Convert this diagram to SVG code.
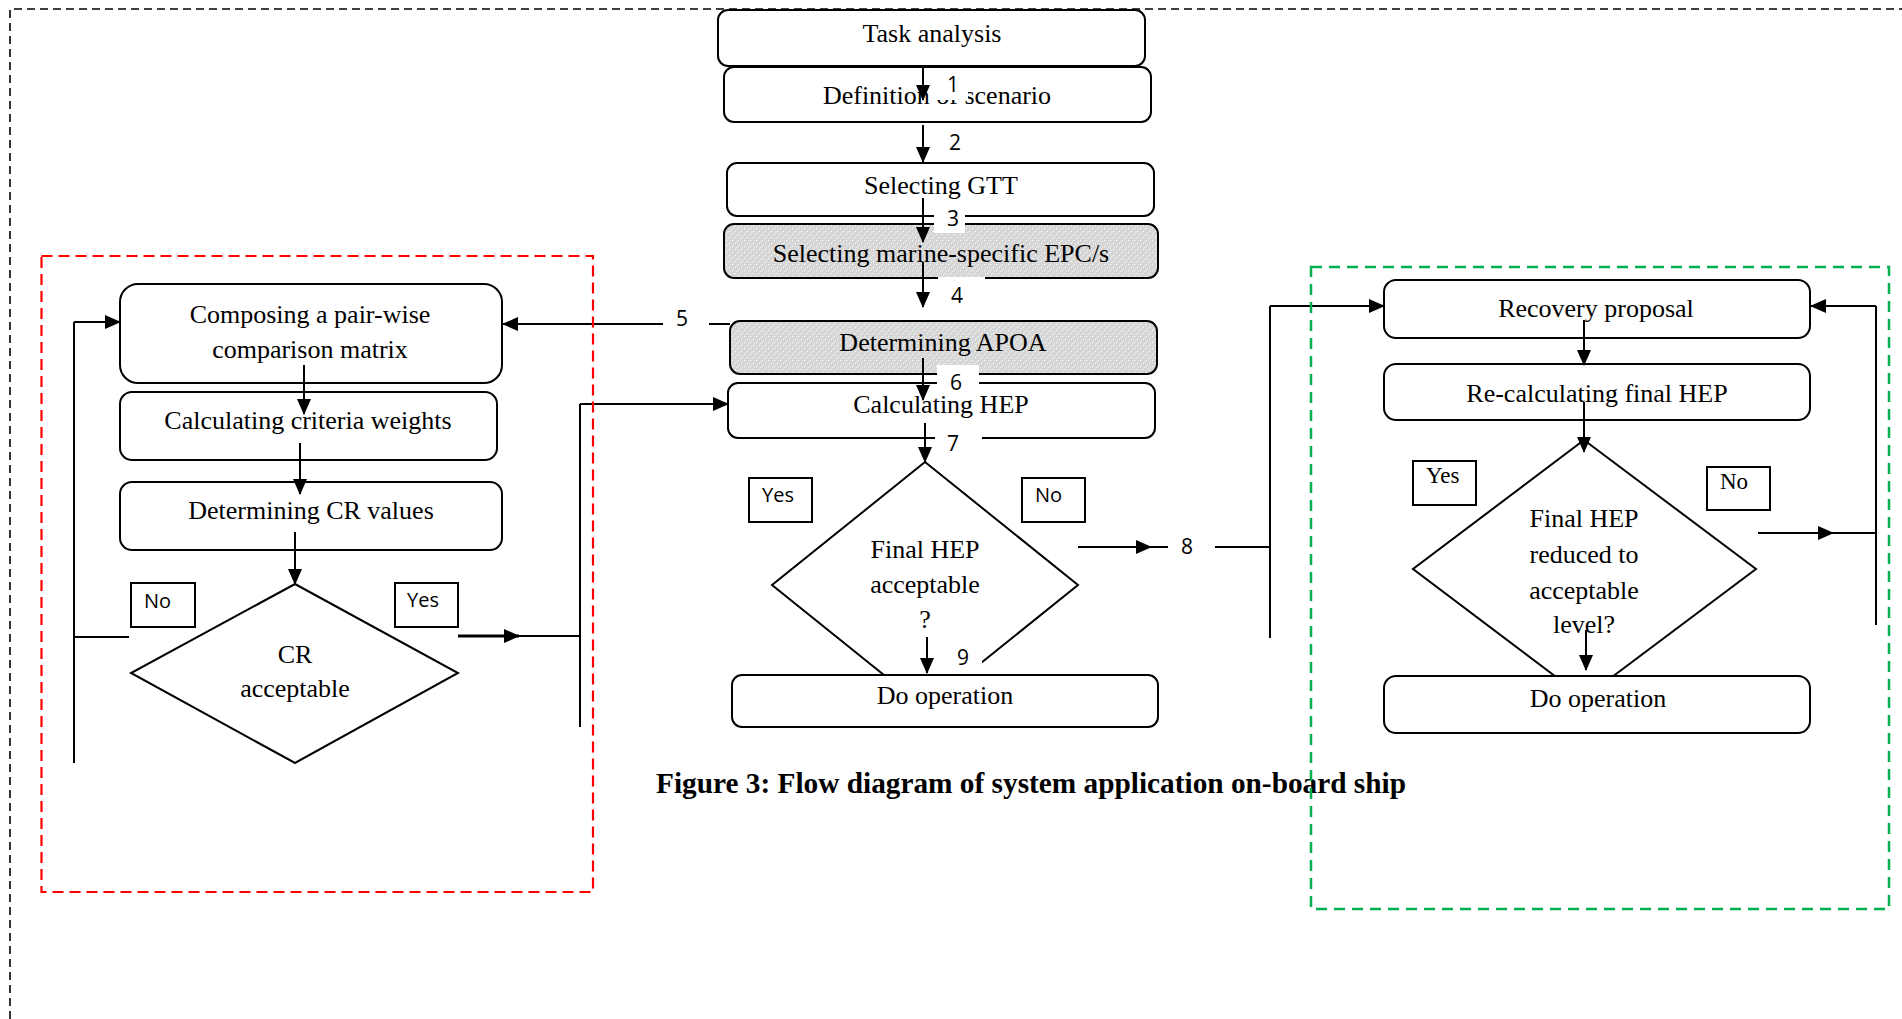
<svg xmlns="http://www.w3.org/2000/svg" width="1902" height="1019" viewBox="0 0 1902 1019">
<style>
.box{fill:#fff;stroke:#000;stroke-width:2}
.gray{fill:url(#dots);stroke:#000;stroke-width:2}
.dia{fill:#fff;stroke:#000;stroke-width:2}
.lbl{fill:#fff;stroke:#000;stroke-width:2}
.t{font-family:"Liberation Serif","Times New Roman",serif;font-size:26px;fill:#000;text-anchor:middle}
.s{font-family:"Open Sans","Liberation Sans",sans-serif;font-size:20px;fill:#000}
.n{font-family:"Open Sans","Liberation Sans",sans-serif;font-size:21px;fill:#000;text-anchor:middle}
.sr{font-family:"Liberation Serif","Times New Roman",serif;font-size:23px;fill:#000}
.ln{fill:none;stroke:#000;stroke-width:2}
.ar{fill:none;stroke:#000;stroke-width:2;marker-end:url(#ah)}
.wh{fill:#fff;stroke:none}
</style>
<defs>
<marker id="ah" markerUnits="userSpaceOnUse" markerWidth="16" markerHeight="14" refX="15" refY="7" orient="auto">
<path d="M0,0 L16,7 L0,14 Z" fill="#000"/>
</marker>
<pattern id="dots" width="6" height="6" patternUnits="userSpaceOnUse">
<rect width="6" height="6" fill="#d6d6d6"/>
<rect x="0" y="0" width="1" height="1" fill="#ffffff"/>
<rect x="3" y="3" width="1" height="1" fill="#ffffff"/>
<rect x="1" y="4" width="1" height="1" fill="#ececec"/>
<rect x="4" y="1" width="1" height="1" fill="#ececec"/>
</pattern>
</defs>
<rect width="1902" height="1019" fill="#fff"/>

<g id="nodes">
<g id="task"><rect class="box" x="718" y="10" width="427" height="56" rx="10"/><text class="t" x="932" y="42">Task analysis</text></g>
<g id="definition"><rect class="box" x="724" y="67" width="427" height="55" rx="10"/><text class="t" x="937" y="104">Definition of scenario</text></g>
<g id="gtt"><rect class="box" x="727" y="163" width="427" height="53" rx="10"/><text class="t" x="941" y="194">Selecting GTT</text></g>
<g id="epc"><rect class="gray" x="724" y="224" width="434" height="54" rx="10"/><text class="t" x="941" y="262">Selecting marine-specific EPC/s</text></g>
<g id="apoa"><rect class="gray" x="730" y="321" width="427" height="53" rx="10"/><text class="t" x="943" y="351">Determining APOA</text></g>
<g id="calchep"><rect class="box" x="728" y="383" width="427" height="55" rx="10"/><text class="t" x="941" y="413">Calculating HEP</text></g>
<g id="dec1"><polygon class="dia" points="925,462 1078,585 925,708 772,585"/>
<text class="t" x="925" y="558">Final HEP</text><text class="t" x="925" y="593">acceptable</text><text class="t" x="925" y="628">?</text></g>
<g id="yes1"><rect class="lbl" x="749" y="478" width="63" height="44"/><text class="s" x="762" y="502">Yes</text></g>
<g id="no1"><rect class="lbl" x="1022" y="478" width="63" height="44"/><text class="s" x="1035" y="502">No</text></g>
<g id="doop1"><rect class="box" x="732" y="675" width="426" height="52" rx="10"/><text class="t" x="945" y="704">Do operation</text></g>

<g id="compose"><rect class="box" x="120" y="284" width="382" height="99" rx="18"/><text class="t" x="310" y="323">Composing a pair-wise</text><text class="t" x="310" y="358">comparison matrix</text></g>
<g id="weights"><rect class="box" x="120" y="392" width="377" height="68" rx="12"/><text class="t" x="308" y="429">Calculating criteria weights</text></g>
<g id="crvalues"><rect class="box" x="120" y="482" width="382" height="68" rx="12"/><text class="t" x="311" y="519">Determining CR values</text></g>
<g id="dec2"><polygon class="dia" points="295,584 458,673 295,763 131,673"/><text class="t" x="295" y="663">CR</text><text class="t" x="295" y="697">acceptable</text></g>
<g id="no2"><rect class="lbl" x="131" y="583" width="64" height="44"/><text class="s" x="144" y="608">No</text></g>
<g id="yes2"><rect class="lbl" x="395" y="583" width="63" height="44"/><text class="s" x="407" y="607">Yes</text></g>

<g id="recovery"><rect class="box" x="1384" y="280" width="426" height="58" rx="12"/><text class="t" x="1596" y="317">Recovery proposal</text></g>
<g id="recalc"><rect class="box" x="1384" y="364" width="426" height="56" rx="12"/><text class="t" x="1597" y="402">Re-calculating final HEP</text></g>
<g id="dec3"><polygon class="dia" points="1584,440 1756,569 1584,698 1413,569"/>
<text class="t" x="1584" y="527">Final HEP</text><text class="t" x="1584" y="563">reduced to</text><text class="t" x="1584" y="599">acceptable</text><text class="t" x="1584" y="633">level?</text></g>
<g id="yes3"><rect class="lbl" x="1413" y="461" width="63" height="44"/><text class="sr" x="1426" y="483">Yes</text></g>
<g id="no3"><rect class="lbl" x="1707" y="467" width="63" height="43"/><text class="sr" x="1720" y="489">No</text></g>
<g id="doop2"><rect class="box" x="1384" y="676" width="426" height="57" rx="12"/><text class="t" x="1598" y="707">Do operation</text></g>
</g>

<g id="connectors">
<line class="ar" x1="923" y1="67" x2="923" y2="100"/>
<line class="ar" x1="923" y1="125" x2="923" y2="162"/>
<line class="ar" x1="923" y1="198" x2="923" y2="242"/>
<line class="ar" x1="923" y1="262" x2="923" y2="307"/>
<line class="ar" x1="730" y1="324" x2="503" y2="324"/>
<line class="ar" x1="923" y1="358" x2="923" y2="400"/>
<line class="ar" x1="925" y1="423" x2="925" y2="462"/>
<line class="ar" x1="1078" y1="547" x2="1151" y2="547"/>
<polyline class="ln" points="1150,547 1270,547"/>
<line class="ln" x1="1270" y1="306" x2="1270" y2="638"/>
<line class="ar" x1="1270" y1="306" x2="1384" y2="306"/>
<line class="ar" x1="927" y1="637" x2="927" y2="673"/>

<line class="ar" x1="304" y1="365" x2="304" y2="414"/>
<line class="ar" x1="300" y1="443" x2="300" y2="494"/>
<line class="ar" x1="295" y1="532" x2="295" y2="584"/>
<line class="ln" x1="129" y1="637" x2="74" y2="637"/>
<line class="ln" x1="74" y1="322" x2="74" y2="763"/>
<line class="ar" x1="74" y1="322" x2="120" y2="322"/>
<line class="ar" x1="458" y1="636" x2="519" y2="636" style="stroke-width:3"/>
<line class="ln" x1="518" y1="636" x2="580" y2="636"/>
<line class="ln" x1="580" y1="404" x2="580" y2="727"/>
<line class="ar" x1="580" y1="404" x2="728" y2="404"/>

<line class="ar" x1="1584" y1="320" x2="1584" y2="365"/>
<line class="ar" x1="1584" y1="402" x2="1584" y2="452"/>
<line class="ar" x1="1586" y1="630" x2="1586" y2="670"/>
<line class="ar" x1="1758" y1="533" x2="1833" y2="533"/>
<line class="ln" x1="1832" y1="533" x2="1876" y2="533"/>
<line class="ln" x1="1876" y1="306" x2="1876" y2="625"/>
<line class="ar" x1="1876" y1="306" x2="1811" y2="306"/>
</g>

<g id="numbers">
<rect class="wh" x="934" y="69" width="34" height="31"/><text class="n" x="953" y="92">1</text>
<text class="n" x="955" y="150">2</text>
<rect class="wh" x="934" y="209" width="31" height="24"/><text class="n" x="953" y="226">3</text>
<rect class="wh" x="938" y="277" width="47" height="30"/><text class="n" x="957" y="303">4</text>
<rect class="wh" x="663" y="310" width="46" height="24"/><text class="n" x="682" y="326">5</text>
<rect class="wh" x="937" y="365" width="42" height="27"/><text class="n" x="956" y="390">6</text>
<rect class="wh" x="935" y="437" width="47" height="22"/><text class="n" x="953" y="451">7</text>
<rect class="wh" x="1168" y="535" width="47" height="24"/><text class="n" x="1187" y="554">8</text>
<rect class="wh" x="945" y="640" width="37" height="34"/><text class="n" x="963" y="665">9</text>
</g>

<text x="656" y="793" style="font-family:'Liberation Serif','Times New Roman',serif;font-size:29px;font-weight:bold" textLength="750" lengthAdjust="spacingAndGlyphs">Figure 3: Flow diagram of system application on-board ship</text>

<g id="containers" fill="none">
<polyline points="10,1019 10,9 1902,9" stroke="#000" stroke-width="1.6" stroke-dasharray="8,5"/>
<rect x="41.5" y="256" width="551.5" height="636" stroke="#ff0000" stroke-width="2.2" stroke-dasharray="11,6"/>
<rect x="1311" y="267" width="578" height="642" stroke="#00b050" stroke-width="2.5" stroke-dasharray="11,7"/>
</g>
</svg>
